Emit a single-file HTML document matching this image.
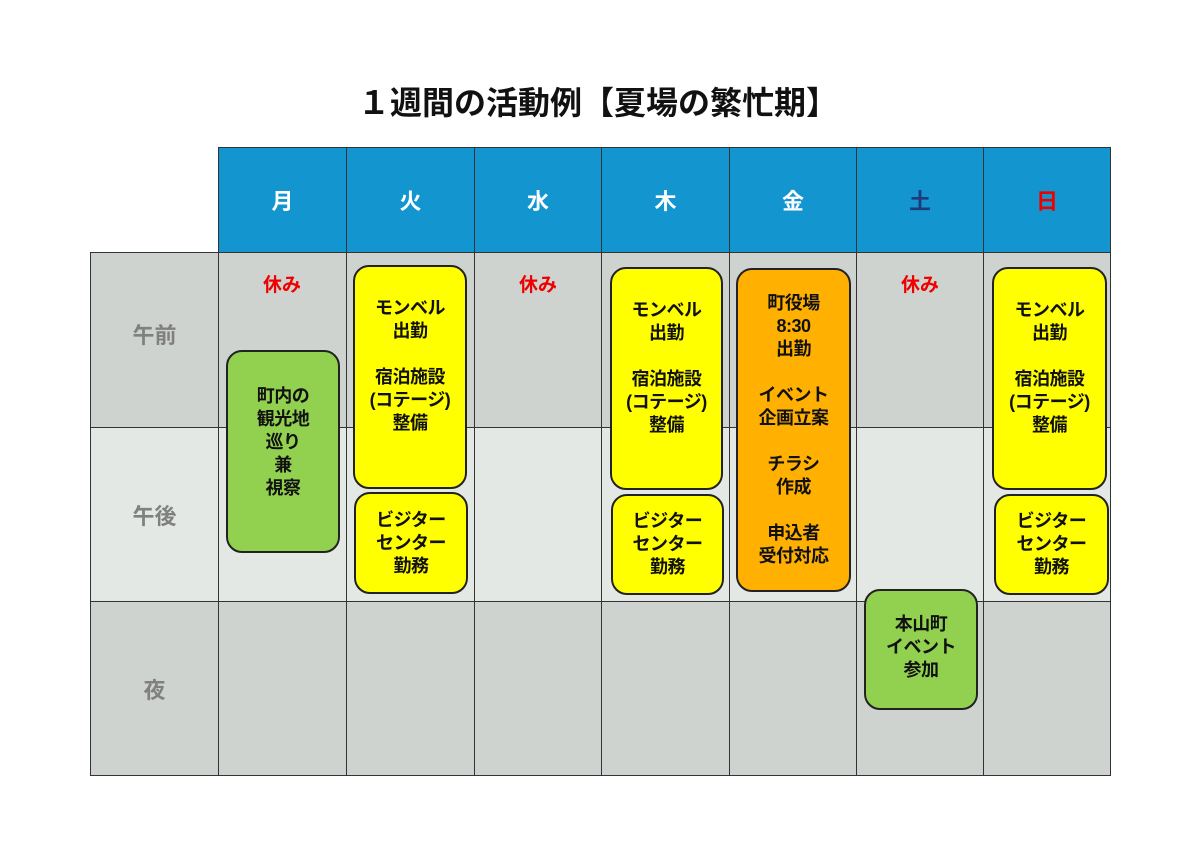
<!DOCTYPE html>
<html><head><meta charset="utf-8"><style>
body{margin:0;width:1200px;height:848px;background:#fff;position:relative;font-family:"Liberation Sans","Noto Sans CJK JP",sans-serif;font-weight:bold;overflow:hidden}
.a{position:absolute;box-sizing:border-box}
.c{border:1px solid #333;display:flex;align-items:center;justify-content:center}
.h{background:#1396d0;color:#fff;font-size:22px}
.g{background:#cfd3cf}
.l{background:#e4e8e4}
.rl{color:#808080;font-size:22px}
.b{border:2px solid #222;border-radius:16px;display:flex;flex-direction:column;align-items:center;justify-content:center;text-align:center;font-size:18px;line-height:23px;color:#111;letter-spacing:-0.5px}
.y{background:#ffff00}.gr{background:#92d050}.o{background:#ffb000}
.r{color:#e00;font-size:19px;text-align:center}
</style></head><body>
<div class="a" style="left:0;width:1196px;top:78px;text-align:center;font-size:32px;color:#111">１週間の活動例【夏場の繁忙期】</div>

<div class="a c h" style="left:218px;top:147px;width:129px;height:106px">月</div>
<div class="a c h" style="left:346px;top:147px;width:129px;height:106px">火</div>
<div class="a c h" style="left:474px;top:147px;width:128px;height:106px">水</div>
<div class="a c h" style="left:601px;top:147px;width:129px;height:106px">木</div>
<div class="a c h" style="left:729px;top:147px;width:128px;height:106px">金</div>
<div class="a c h" style="left:856px;top:147px;width:128px;height:106px;color:#1f3a7a">土</div>
<div class="a c h" style="left:983px;top:147px;width:128px;height:106px;color:#e00">日</div>

<div class="a c g rl" style="left:90px;top:252px;width:129px;height:176px;padding-bottom:12px">午前</div>
<div class="a c l rl" style="left:90px;top:427px;width:129px;height:175px">午後</div>
<div class="a c g rl" style="left:90px;top:601px;width:129px;height:175px">夜</div>

<div class="a c g" style="left:218px;top:252px;width:129px;height:176px"></div>
<div class="a c g" style="left:346px;top:252px;width:129px;height:176px"></div>
<div class="a c g" style="left:474px;top:252px;width:128px;height:176px"></div>
<div class="a c g" style="left:601px;top:252px;width:129px;height:176px"></div>
<div class="a c g" style="left:729px;top:252px;width:128px;height:176px"></div>
<div class="a c g" style="left:856px;top:252px;width:128px;height:176px"></div>
<div class="a c g" style="left:983px;top:252px;width:128px;height:176px"></div>

<div class="a c l" style="left:218px;top:427px;width:129px;height:175px"></div>
<div class="a c l" style="left:346px;top:427px;width:129px;height:175px"></div>
<div class="a c l" style="left:474px;top:427px;width:128px;height:175px"></div>
<div class="a c l" style="left:601px;top:427px;width:129px;height:175px"></div>
<div class="a c l" style="left:729px;top:427px;width:128px;height:175px"></div>
<div class="a c l" style="left:856px;top:427px;width:128px;height:175px"></div>
<div class="a c l" style="left:983px;top:427px;width:128px;height:175px"></div>

<div class="a c g" style="left:218px;top:601px;width:129px;height:175px"></div>
<div class="a c g" style="left:346px;top:601px;width:129px;height:175px"></div>
<div class="a c g" style="left:474px;top:601px;width:128px;height:175px"></div>
<div class="a c g" style="left:601px;top:601px;width:129px;height:175px"></div>
<div class="a c g" style="left:729px;top:601px;width:128px;height:175px"></div>
<div class="a c g" style="left:856px;top:601px;width:128px;height:175px"></div>
<div class="a c g" style="left:983px;top:601px;width:128px;height:175px"></div>

<div class="a r" style="left:218px;width:128px;top:270px">休み</div>
<div class="a r" style="left:474px;width:128px;top:270px">休み</div>
<div class="a r" style="left:856px;width:128px;top:270px">休み</div>

<div class="a b gr" style="left:226px;top:350px;width:114px;height:203px;padding-bottom:18px">町内の<br>観光地<br>巡り<br>兼<br>視察</div>
<div class="a b y" style="left:353px;top:265px;width:114px;height:224px;padding-bottom:22px">モンベル<br>出勤<br><br>宿泊施設<br>(コテージ)<br>整備</div>
<div class="a b y" style="left:354px;top:492px;width:114px;height:102px">ビジター<br>センター<br>勤務</div>
<div class="a b y" style="left:610px;top:267px;width:113px;height:223px;padding-bottom:22px">モンベル<br>出勤<br><br>宿泊施設<br>(コテージ)<br>整備</div>
<div class="a b y" style="left:611px;top:494px;width:113px;height:101px">ビジター<br>センター<br>勤務</div>
<div class="a b o" style="left:736px;top:268px;width:115px;height:324px">町役場<br>8:30<br>出勤<br><br>イベント<br>企画立案<br><br>チラシ<br>作成<br><br>申込者<br>受付対応</div>
<div class="a b gr" style="left:864px;top:589px;width:114px;height:121px;padding-bottom:4px">本山町<br>イベント<br>参加</div>
<div class="a b y" style="left:992px;top:267px;width:115px;height:223px;padding-bottom:22px">モンベル<br>出勤<br><br>宿泊施設<br>(コテージ)<br>整備</div>
<div class="a b y" style="left:994px;top:494px;width:115px;height:101px">ビジター<br>センター<br>勤務</div>
</body></html>
